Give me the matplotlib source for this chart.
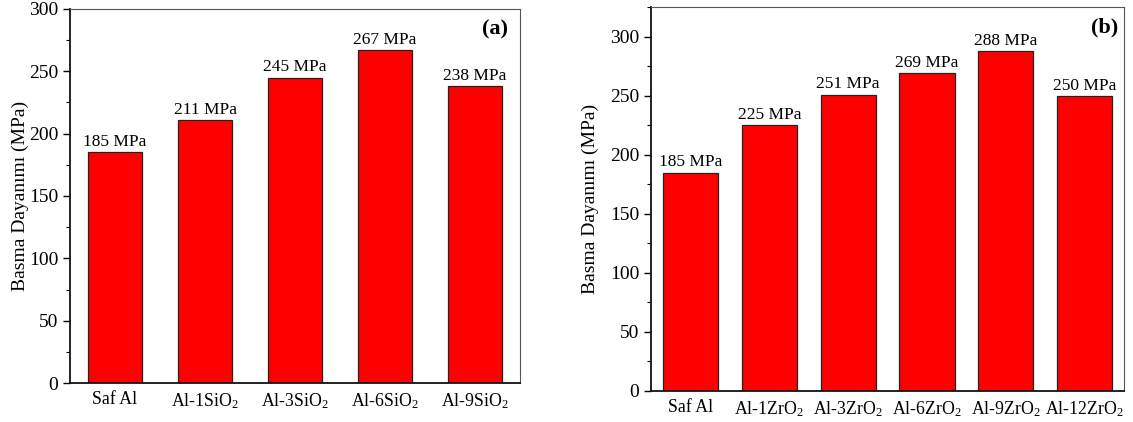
import matplotlib
matplotlib.use('Agg')
import matplotlib.pyplot as plt
from matplotlib.ticker import MultipleLocator

plt.rcParams['font.family'] = ['Liberation Serif', 'DejaVu Serif']
plt.rcParams['mathtext.default'] = 'regular'

# panel (a): SiO2
cats_a = ['Saf Al', 'Al-1SiO$_2$', 'Al-3SiO$_2$', 'Al-6SiO$_2$', 'Al-9SiO$_2$']
vals_a = [185, 211, 245, 267, 238]

# panel (b): ZrO2
cats_b = ['Saf Al', 'Al-1ZrO$_2$', 'Al-3ZrO$_2$', 'Al-6ZrO$_2$', 'Al-9ZrO$_2$', 'Al-12ZrO$_2$']
vals_b = [185, 225, 251, 269, 288, 250]

fig = plt.figure(figsize=(11.33, 4.22), dpi=100)
ax1 = fig.add_axes([0.0618, 0.0924, 0.3972, 0.8863])
ax2 = fig.add_axes([0.5746, 0.0735, 0.4175, 0.9095])


def draw(ax, cats, vals, width, ymax, tag, tagpos, lpad):
    x = list(range(len(cats)))
    ax.bar(x, vals, width=width, color='#ff0000', edgecolor='#222222', linewidth=0.9)
    for xi, v in zip(x, vals):
        ax.annotate('%d MPa' % v, (xi, v), xytext=(0, 1.5), textcoords='offset points',
                    ha='center', va='bottom', fontsize=12.5)
    ax.set_xlim(-0.5, len(cats) - 0.5)
    ax.set_ylim(0, ymax)
    ax.set_xticks(x)
    ax.set_xticklabels(cats, fontsize=12.8)
    ax.yaxis.set_major_locator(MultipleLocator(50))
    ax.yaxis.set_minor_locator(MultipleLocator(25))
    ax.tick_params(axis='x', length=0, pad=6)
    ax.tick_params(axis='y', which='major', length=5, width=1, labelsize=14, direction='out')
    ax.tick_params(axis='y', which='minor', length=3, width=0.8, direction='out')
    ax.set_ylabel('Basma Dayanımı (MPa)', fontsize=14, labelpad=lpad)
    for s in ['left', 'bottom']:
        ax.spines[s].set_linewidth(1.3)
        ax.spines[s].set_color('#111111')
    for s in ['top', 'right']:
        ax.spines[s].set_linewidth(0.8)
        ax.spines[s].set_color('#555555')
    ax.text(tagpos[0], tagpos[1], tag, transform=ax.transAxes, fontsize=16,
            fontweight='bold', ha='center', va='center')


draw(ax1, cats_a, vals_a, 0.6, 300, '(a)', (0.945, 0.944), 0)
draw(ax2, cats_b, vals_b, 0.7, 325, '(b)', (0.958, 0.948), 8)

fig.savefig('out.png', dpi=100)
